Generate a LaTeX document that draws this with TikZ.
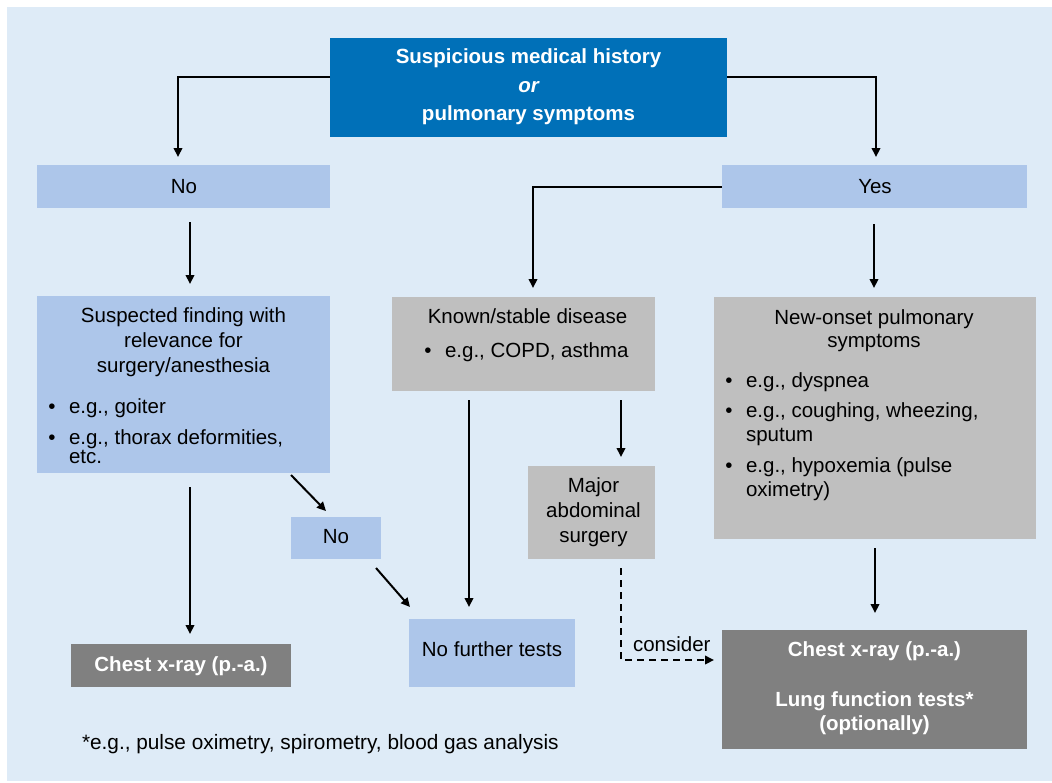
\documentclass[tikz,border=0pt]{standalone}
\usepackage{fontspec}
\setmainfont{Liberation Sans}
\usetikzlibrary{arrows.meta,calc}
\definecolor{bgc}{HTML}{DEEBF7}
\definecolor{titlec}{HTML}{0070B8}
\definecolor{lightc}{HTML}{ADC6EA}
\definecolor{grayc}{HTML}{BFBFBF}
\definecolor{darkc}{HTML}{808080}
\begin{document}
\begin{tikzpicture}[x=1pt,y=-1pt,
  box/.style={inner sep=0pt, outer sep=0pt, anchor=north west, draw=none},
  txt/.style={font=\fontsize{20.5}{24}\selectfont, inner sep=0pt, outer sep=0pt, anchor=base, text=black},
  ltxt/.style={txt, anchor=base west},
  wtxt/.style={txt, text=white, font=\fontsize{20.5}{24}\selectfont\bfseries},
  arr/.style={line width=2pt, -{Triangle[length=9pt,width=8.5pt]}},
  darr/.style={arr, dash pattern=on 7pt off 5pt}]
\useasboundingbox (0,0) rectangle (1052,782);
\fill[bgc] (7,7) rectangle (1052,781);

% boxes
\node[box, fill=titlec, minimum width=397pt, minimum height=99pt] (title) at (330,38) {};
\node[box, fill=lightc, minimum width=293pt, minimum height=43pt] (noL) at (37,165) {};
\node[box, fill=lightc, minimum width=305pt, minimum height=43pt] (yes) at (722,165) {};
\node[box, fill=lightc, minimum width=293pt, minimum height=177pt] (susp) at (37,296) {};
\node[box, fill=grayc, minimum width=263pt, minimum height=94pt] (known) at (392,297) {};
\node[box, fill=grayc, minimum width=322pt, minimum height=242pt] (newon) at (714,297) {};
\node[box, fill=grayc, minimum width=127pt, minimum height=93pt] (major) at (528,466) {};
\node[box, fill=lightc, minimum width=90pt, minimum height=42pt] (noS) at (291,517) {};
\node[box, fill=lightc, minimum width=166pt, minimum height=68pt] (nofurther) at (409,619) {};
\node[box, fill=darkc, minimum width=220pt, minimum height=43pt] (chestL) at (71,644) {};
\node[box, fill=darkc, minimum width=305pt, minimum height=119pt] (chestR) at (722,630) {};

% title text
\node[wtxt] (t1) at (528.5,63) {Suspicious medical history};
\node[wtxt] (t2) at (528.5,92) {\itshape or};
\node[wtxt] (t3) at (528.5,120) {pulmonary symptoms};

\node[txt] (tno) at (184,193) {No};
\node[txt] (tyes) at (875,193) {Yes};

% suspected finding
\node[txt] (s1) at (183.5,322) {Suspected finding with};
\node[txt] (s2) at (183.5,347) {relevance for};
\node[txt] (s3) at (183.5,372) {surgery/anesthesia};
\node[txt] (sb1) at (52,413) {•};
\node[ltxt] (s4) at (69,413) {e.g., goiter};
\node[txt] (sb2) at (52,444) {•};
\node[ltxt] (s5) at (69,444) {e.g., thorax deformities,};
\node[ltxt] (s6) at (69,463) {etc.};

% known
\node[txt] (k1) at (527.5,323) {Known/stable disease};
\node[txt] (kb1) at (428,357) {•};
\node[ltxt] (k2) at (445,357) {e.g., COPD, asthma};

% new onset
\node[txt] (n1) at (874,324) {New-onset pulmonary};
\node[txt] (n2) at (874,347) {symptoms};
\node[txt] (nb1) at (729,387) {•};
\node[ltxt] (n3) at (746,387) {e.g., dyspnea};
\node[txt] (nb2) at (729,417) {•};
\node[ltxt] (n4) at (746,417) {e.g., coughing, wheezing,};
\node[ltxt] (n5) at (746,441) {sputum};
\node[txt] (nb3) at (729,472) {•};
\node[ltxt] (n6) at (746,472) {e.g., hypoxemia (pulse};
\node[ltxt] (n7) at (746,496) {oximetry)};

% major
\node[txt] (m1) at (593.5,492) {Major};
\node[txt] (m2) at (593.5,517) {abdominal};
\node[txt] (m3) at (593.5,542) {surgery};

\node[txt] (tnoS) at (336,543) {No};
\node[txt] (tnf) at (492,656) {No further tests};

\node[wtxt] (c1) at (181,671) {Chest x-ray (p.-a.)};
\node[wtxt] (c2) at (874.5,656) {Chest x-ray (p.-a.)};
\node[wtxt] (c3) at (874.5,706) {Lung function tests*};
\node[wtxt] (c4) at (874.5,730) {(optionally)};

\node[ltxt] (cons) at (633,651) {consider};
\node[ltxt, font=\fontsize{20.8}{24}\selectfont] (foot) at (82,749) {*e.g., pulse oximetry, spirometry, blood gas analysis};

% connector end points
\coordinate (eNo) at (178,157);
\coordinate (eYes) at (876,157);
\coordinate (eK) at (533,288);
\coordinate (sNew) at (874,224);
\coordinate (eNew) at (874,288);
\coordinate (sSusp) at (190,222);
\coordinate (eSusp) at (190,284);
\coordinate (sChL) at (190,487);
\coordinate (eChL) at (190,634);
\coordinate (sNoS) at (291,475);
\coordinate (eNoS) at (326,511);
\coordinate (sNF) at (376,568);
\coordinate (eNF) at (410,607);
\coordinate (sKN) at (469,400);
\coordinate (eKN) at (469,607);
\coordinate (sMj) at (621,400);
\coordinate (eMj) at (621,457);
\coordinate (sDs) at (621,568);
\coordinate (cDs) at (621,660);
\coordinate (eDs) at (714,660);
\coordinate (sCR) at (875,548);
\coordinate (eCR) at (875,613);

% connectors
\draw[arr] (title.west |- 0,77) -| (eNo);
\draw[arr] (title.east |- 0,77) -| (eYes);
\draw[arr] (yes.west) -| (eK);
\draw[arr] (sNew) -- (eNew);
\draw[arr] (sSusp) -- (eSusp);
\draw[arr] (sChL) -- (eChL);
\draw[arr] (sNoS) -- (eNoS);
\draw[arr] (sNF) -- (eNF);
\draw[arr] (sKN) -- (eKN);
\draw[arr] (sMj) -- (eMj);
\draw[darr] (sDs) -- (cDs) -- (eDs);
\draw[arr] (sCR) -- (eCR);
\end{tikzpicture}
\end{document}
